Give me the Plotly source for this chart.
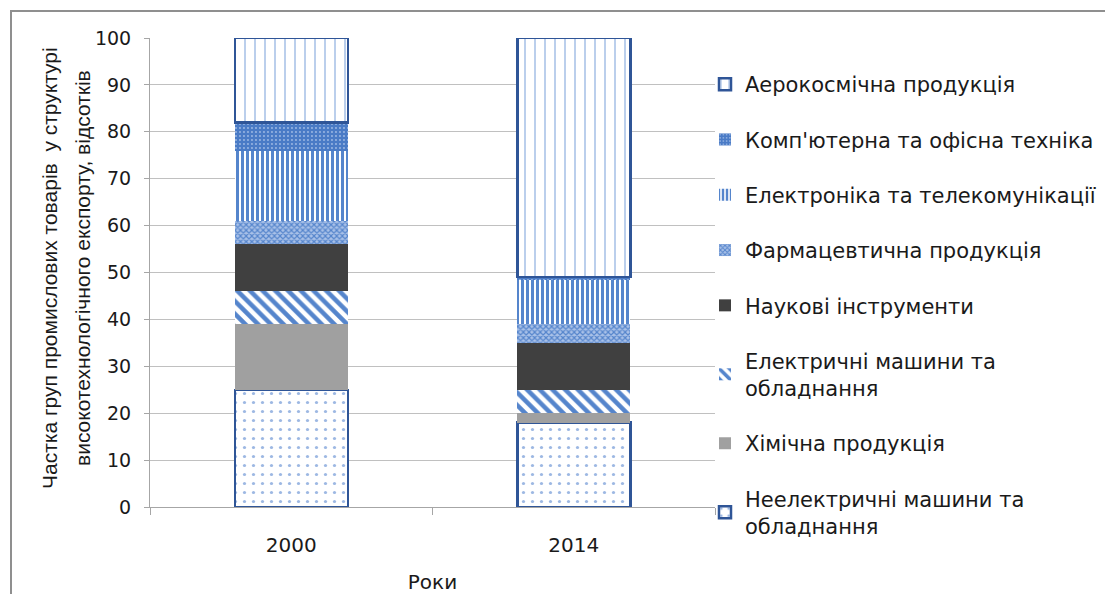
import plotly.graph_objects as go

years = ["2000", "2014"]

series_names = [
    "Неелектричні машини та<br>обладнання",
    "Хімічна продукція",
    "Електричні машини та<br>обладнання",
    "Наукові інструменти",
    "Фармацевтична продукція",
    "Електроніка та телекомунікації",
    "Комп'ютерна та офісна техніка",
    "Аерокосмічна продукція",
]

neelektrychni = [25, 18]
khimichna = [14, 2]
elektrychni = [7, 5]
naukovi = [10, 10]
farma = [5, 4]
elektronika = [15, 9.6]
kompiuterna = [6, 0.4]
aerokosmichna = [18, 51]

values = [neelektrychni, khimichna, elektrychni, naukovi, farma,
          elektronika, kompiuterna, aerokosmichna]

BLUE = "#5585CC"
DARK = "#2F5597"

styles = [
    dict(color="white", line=dict(color=DARK, width=2.5),
         pattern=dict(shape=".", fgcolor="#9DB8E3", bgcolor="white", size=9,
                      solidity=0.1, fgopacity=1)),
    dict(color="#A0A0A0", line=dict(width=0)),
    dict(color="white", line=dict(width=0),
         pattern=dict(shape="\\", fgcolor=BLUE, bgcolor="white", size=9,
                      solidity=0.5, fgopacity=1)),
    dict(color="#404040", line=dict(width=0)),
    dict(color="white", line=dict(width=0),
         pattern=dict(shape="x", fgcolor=BLUE, bgcolor="#A9C1E8", size=4,
                      solidity=0.5, fgopacity=1)),
    dict(color="white", line=dict(width=0),
         pattern=dict(shape="|", fgcolor=BLUE, bgcolor="white", size=5,
                      solidity=0.6, fgopacity=1)),
    dict(color=BLUE, line=dict(width=0),
         pattern=dict(shape=".", fgcolor="#9FBAE5", bgcolor="#4A7BC6", size=4,
                      solidity=0.18, fgopacity=1)),
    dict(color="white", line=dict(color=DARK, width=2.5),
         pattern=dict(shape="|", fgcolor="#A5BFE6", bgcolor="white", size=10,
                      solidity=0.15, fgopacity=1)),
]

fig = go.Figure()
n = len(series_names)
for i, (name, vals, st) in enumerate(zip(series_names, values, styles)):
    fig.add_trace(go.Bar(x=years, y=vals, name=name, marker=st,
                         legendgroup=f"g{i}", legendrank=(n - i) * 10))

# page body has an 8px margin; positions below are given in reference pixels
OFF = 8
W, H = 1113 - OFF, 594 - OFF
L, T = 150 - OFF, 38 - OFF
pw, ph = 565, 469
R, B = W - L - pw, H - T - ph

def px_x(p):
    return (p - OFF - L) / pw

def px_y(p):
    return (T + ph - (p - OFF)) / ph

FONT = "DejaVu Sans"
TXT = "#1a1a1a"

fig.update_layout(
    width=W, height=H,
    margin=dict(l=L, r=R, t=T, b=B, autoexpand=False),
    barmode="stack", bargap=0.6,
    plot_bgcolor="white", paper_bgcolor="white",
    font=dict(family=FONT, size=18, color=TXT),
    legend=dict(
        x=px_x(705), y=px_y(64), xanchor="left", yanchor="top",
        traceorder="grouped", tracegroupgap=25,
        font=dict(family=FONT, size=21, color=TXT),
        bgcolor="rgba(0,0,0,0)", maxheight=560,
    ),
    xaxis=dict(
        showline=True, linecolor="#A6A6A6", linewidth=1,
        ticks="outside", tickson="boundaries", ticklen=7, tickcolor="#A6A6A6",
        tickfont=dict(size=20), ticklabelstandoff=20,
        title=dict(text="Роки", font=dict(size=20), standoff=24),
    ),
    yaxis=dict(
        range=[0, 100], dtick=10, showgrid=True, gridcolor="#C0C0C0",
        showline=True, linecolor="#A6A6A6", linewidth=1, zeroline=False,
        ticks="outside", ticklen=5, tickcolor="#A6A6A6",
        tickfont=dict(size=19), ticklabelstandoff=9,
    ),
    shapes=[dict(type="rect", xref="paper", yref="paper",
                 x0=px_x(11), x1=px_x(1130), y0=px_y(620), y1=px_y(11),
                 line=dict(color="#8F8F8F", width=2), fillcolor="rgba(0,0,0,0)",
                 layer="below")],
    annotations=[
        dict(text="Частка груп промислових товарів  у структурі", xref="paper", yref="paper",
             x=px_x(49), y=px_y(268), xanchor="center", yanchor="middle",
             textangle=-90, showarrow=False,
             font=dict(family="Liberation Sans", size=21, color=TXT)),
        dict(text="високотехнологічного експорту, відсотків", xref="paper", yref="paper",
             x=px_x(82), y=px_y(268), xanchor="center", yanchor="middle",
             textangle=-90, showarrow=False,
             font=dict(family="Liberation Sans", size=21, color=TXT)),
    ],
)

fig.write_html("out.html")
